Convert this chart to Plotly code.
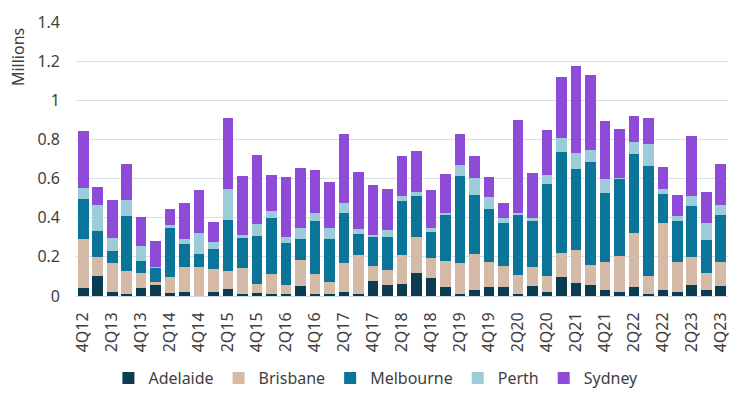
import plotly.graph_objects as go

quarters = ["4Q12",
            "1Q13", "2Q13", "3Q13", "4Q13",
            "1Q14", "2Q14", "3Q14", "4Q14",
            "1Q15", "2Q15", "3Q15", "4Q15",
            "1Q16", "2Q16", "3Q16", "4Q16",
            "1Q17", "2Q17", "3Q17", "4Q17",
            "1Q18", "2Q18", "3Q18", "4Q18",
            "1Q19", "2Q19", "3Q19", "4Q19",
            "1Q20", "2Q20", "3Q20", "4Q20",
            "1Q21", "2Q21", "3Q21", "4Q21",
            "1Q22", "2Q22", "3Q22", "4Q22",
            "1Q23", "2Q23", "3Q23", "4Q23"]

adelaide = [0.043, 0.100, 0.018, 0.010, 0.043, 0.058, 0.014, 0.020, 0.000, 0.020,
            0.038, 0.010, 0.014, 0.010, 0.010, 0.050, 0.008, 0.008, 0.018, 0.008,
            0.075, 0.057, 0.062, 0.117, 0.093, 0.045, 0.008, 0.032, 0.044, 0.046,
            0.011, 0.050, 0.019, 0.098, 0.068, 0.057, 0.033, 0.020, 0.044, 0.008,
            0.032, 0.020, 0.058, 0.032, 0.052]
brisbane = [0.247, 0.097, 0.152, 0.119, 0.072, 0.016, 0.084, 0.129, 0.149, 0.120,
            0.091, 0.131, 0.049, 0.101, 0.045, 0.132, 0.106, 0.063, 0.152, 0.199,
            0.078, 0.078, 0.145, 0.185, 0.103, 0.133, 0.163, 0.183, 0.128, 0.109,
            0.098, 0.098, 0.083, 0.123, 0.166, 0.103, 0.140, 0.182, 0.276, 0.096,
            0.343, 0.154, 0.140, 0.086, 0.122]
melbourne = [0.207, 0.135, 0.058, 0.282, 0.063, 0.070, 0.248, 0.117, 0.068, 0.102,
             0.260, 0.157, 0.245, 0.290, 0.214, 0.108, 0.270, 0.219, 0.256, 0.112,
             0.149, 0.167, 0.280, 0.209, 0.131, 0.236, 0.444, 0.302, 0.272, 0.216,
             0.304, 0.236, 0.472, 0.514, 0.413, 0.524, 0.353, 0.397, 0.408, 0.558,
             0.145, 0.210, 0.260, 0.168, 0.241]
perth = [0.055, 0.135, 0.068, 0.077, 0.079, 0.004, 0.017, 0.025, 0.103, 0.035,
         0.159, 0.014, 0.060, 0.031, 0.034, 0.060, 0.038, 0.055, 0.048, 0.024,
         0.009, 0.035, 0.024, 0.018, 0.022, 0.012, 0.056, 0.087, 0.060, 0.026,
         0.011, 0.015, 0.042, 0.073, 0.086, 0.061, 0.073, 0.006, 0.060, 0.117,
         0.029, 0.024, 0.051, 0.086, 0.051]
sydney = [0.291, 0.092, 0.196, 0.184, 0.149, 0.135, 0.081, 0.184, 0.222, 0.103,
          0.361, 0.299, 0.352, 0.184, 0.307, 0.302, 0.223, 0.240, 0.356, 0.290,
          0.255, 0.210, 0.204, 0.210, 0.192, 0.197, 0.159, 0.111, 0.106, 0.077,
          0.475, 0.229, 0.234, 0.313, 0.444, 0.383, 0.296, 0.246, 0.132, 0.133,
          0.111, 0.110, 0.311, 0.158, 0.206]

tick_labels = quarters[::2]
y_ticks = [0, 0.2, 0.4, 0.6, 0.8, 1, 1.2, 1.4]
y_tick_text = ["0", "0.2", "0.4", "0.6", "0.8", "1", "1.2", "1.4"]

series = [
    ("Adelaide", adelaide, "#0c3c52"),
    ("Brisbane", brisbane, "#d5baa7"),
    ("Melbourne", melbourne, "#0b7499"),
    ("Perth", perth, "#9ccbd9"),
    ("Sydney", sydney, "#8d4bd8"),
]

font_family = "Noto Sans, DejaVu Sans, sans-serif"
text_color = "#404040"

fig = go.Figure()
for name, vals, color in series:
    fig.add_trace(go.Bar(x=quarters, y=vals, name=name,
                         marker=dict(color=color, line=dict(width=0))))

fig.update_layout(
    barmode="stack",
    bargap=0.27,
    width=744, height=395,
    margin=dict(l=68, r=24, t=14, b=107, autoexpand=False),
    paper_bgcolor="white",
    plot_bgcolor="white",
    font=dict(family=font_family, size=16, color=text_color),
    showlegend=True,
    legend=dict(orientation="h", x=0.46, xanchor="center",
                yref="container", y=0.063, yanchor="middle",
                font=dict(size=16, color=text_color), traceorder="normal",
                itemwidth=30, tracegroupgap=0),
    xaxis=dict(
        type="category",
        tickmode="array",
        tickvals=tick_labels,
        ticktext=tick_labels,
        tickangle=-90,
        tickfont=dict(size=16, color=text_color),
        ticklabelstandoff=9,
        showgrid=False,
        showline=True,
        linecolor="#d0d8e4",
        linewidth=1,
        ticks="",
        automargin=False,
    ),
    yaxis=dict(
        range=[0, 1.4],
        tickmode="array",
        tickvals=y_ticks,
        ticktext=y_tick_text,
        showgrid=True,
        gridcolor="#d9dfe9",
        gridwidth=1,
        zeroline=False,
        tickfont=dict(size=16, color=text_color),
        ticklabelstandoff=15,
        ticks="",
        automargin=False,
    ),
    annotations=[dict(text="Millions", textangle=-90, showarrow=False,
                      xref="paper", yref="paper", x=-0.089, y=0.872,
                      xanchor="center", yanchor="middle",
                      font=dict(size=16, color=text_color))],
)

fig.write_html("out.html")
